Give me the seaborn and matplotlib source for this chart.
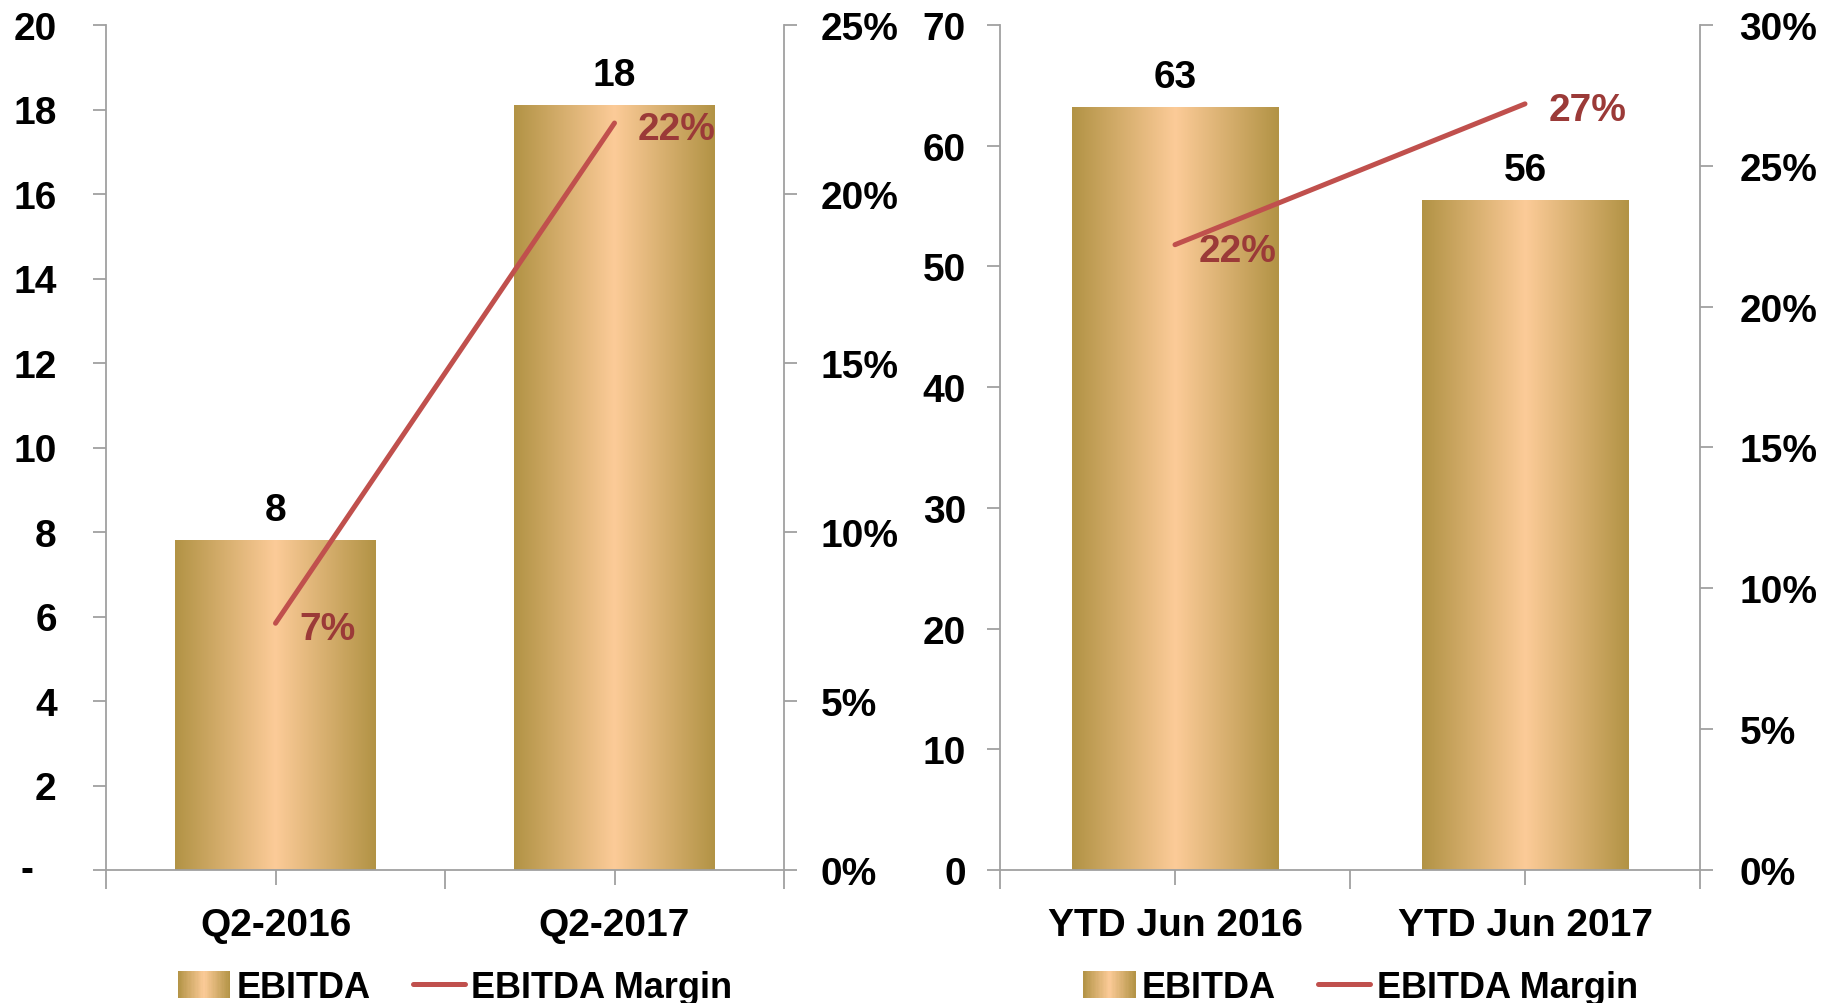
import numpy as np
import pandas as pd
import seaborn as sns
import matplotlib
matplotlib.use("Agg")
import matplotlib.pyplot as plt
from matplotlib.colors import LinearSegmentedColormap
from matplotlib.patches import Rectangle
from matplotlib.lines import Line2D
from matplotlib.legend_handler import HandlerBase
from matplotlib.ticker import MultipleLocator, FuncFormatter

# ---------------- data ----------------
q_categories = ["Q2-2016", "Q2-2017"]
q_ebitda = [7.8, 18.1]
q_margin = [0.073, 0.221]

ytd_categories = ["YTD Jun 2016", "YTD Jun 2017"]
ytd_ebitda = [63.2, 55.5]
ytd_margin = [0.222, 0.272]

legend_labels = ["EBITDA", "EBITDA Margin"]

# ---------------- style ----------------
sns.set_theme(style="white")
plt.rcParams["font.family"] = ["Liberation Sans", "DejaVu Sans"]
plt.rcParams["font.weight"] = "bold"
plt.rcParams["text.color"] = "black"
plt.rcParams["xtick.labelcolor"] = "black"
plt.rcParams["ytick.labelcolor"] = "black"

GOLD_DARK = "#B29345"
PEACH = "#FCCB98"
gold_cmap = LinearSegmentedColormap.from_list("gold", [GOLD_DARK, PEACH, GOLD_DARK])
LINE_RED = "#C0504D"
LABEL_RED = "#9B3A38"
AXIS_GREY = "#A0A0A0"
FS = 28


class GradientPatch(Rectangle):
    pass


class HandlerGradient(HandlerBase):
    def create_artists(self, legend, orig_handle, xdescent, ydescent,
                       width, height, fontsize, trans):
        n = 40
        arts = []
        for i in range(n):
            r = Rectangle((-xdescent + i * width / n, -ydescent), width / n * 1.05, height,
                          facecolor=gold_cmap((i + 0.5) / n), edgecolor="none",
                          transform=trans)
            arts.append(r)
        return arts


def draw_panel(fig, rect, cats, ebitda, margin, ymax, ystep, pmax,
               dash_zero, pad_left, pad_right):
    ax = fig.add_axes(rect)
    n = len(cats)
    df = pd.DataFrame({"cat": cats, "ebitda": ebitda, "margin": margin,
                       "pos": np.arange(n)})
    sns.barplot(data=df, x="cat", y="ebitda", ax=ax, width=0.59, color=PEACH,
                saturation=1, errorbar=None)
    ax.set_xlim(-0.5, n - 0.5)
    ax.set_ylim(0, ymax)
    grad = np.linspace(0, 1, 256).reshape(1, -1)
    for p in list(ax.patches):
        x0, w, h = p.get_x(), p.get_width(), p.get_height()
        ax.imshow(grad, cmap=gold_cmap, extent=[x0, x0 + w, 0, h], aspect="auto",
                  zorder=2, interpolation="bilinear")
        p.set_visible(False)
        ax.annotate(f"{h:.0f}", (x0 + w / 2, h), xytext=(0, 14.5),
                    textcoords="offset points", ha="center", va="baseline",
                    fontsize=FS, fontweight="bold", color="black", zorder=5)
    ax.set_xlim(-0.5, n - 0.5)
    ax.set_ylim(0, ymax)
    ax.set_xlabel("")
    ax.set_ylabel("")

    ax2 = ax.twinx()
    sns.lineplot(data=df, x="pos", y="margin", ax=ax2, color=LINE_RED,
                 linewidth=3.6, solid_capstyle="round")
    ax2.set_ylim(0, pmax)
    ax.set_xlim(-0.5, n - 0.5)
    ax2.set_ylabel("")
    for xi, m in zip(df["pos"], df["margin"]):
        ax2.annotate(f"{m:.0%}", (xi, m), xytext=(17, -11.5),
                     textcoords="offset points", ha="left", va="baseline",
                     fontsize=FS, fontweight="bold", color=LABEL_RED)

    # axes styling
    for s in ["top", "right"]:
        ax.spines[s].set_visible(False)
    for s in ["top", "left", "bottom"]:
        ax2.spines[s].set_visible(False)
    for s in ["left", "bottom"]:
        ax.spines[s].set_color(AXIS_GREY)
        ax.spines[s].set_linewidth(1.3)
    ax2.spines["right"].set_color(AXIS_GREY)
    ax2.spines["right"].set_linewidth(1.3)

    ax.yaxis.set_major_locator(MultipleLocator(ystep))
    if dash_zero:
        ax.yaxis.set_major_formatter(FuncFormatter(lambda v, _: "" if abs(v) < 1e-9 else f"{v:.0f}"))
        ax.annotate("-", xy=(0, 0), xycoords=("axes fraction", "data"),
                    xytext=(-9.5 - pad_left - 17, 0), textcoords="offset points",
                    ha="right", va="center", fontsize=FS, fontweight="bold",
                    color="black")
    else:
        ax.yaxis.set_major_formatter(FuncFormatter(lambda v, _: f"{v:.0f}"))
    ax2.yaxis.set_major_locator(MultipleLocator(0.05))
    ax2.yaxis.set_major_formatter(FuncFormatter(lambda v, _: f"{v:.0%}"))

    ax.tick_params(axis="y", left=True, length=9.5, width=1.3, color=AXIS_GREY,
                   labelsize=FS, pad=pad_left, direction="out", labelcolor="black")
    ax2.tick_params(axis="y", right=True, length=9.5, width=1.3, color=AXIS_GREY,
                    labelsize=FS, pad=pad_right, direction="out", labelcolor="black")

    ax.set_xticks(np.arange(n))
    ax.set_xticklabels(cats)
    ax.set_xticks(np.arange(n + 1) - 0.5, minor=True)
    ax.tick_params(axis="x", which="major", bottom=True, length=11, width=1.3,
                   color=AXIS_GREY, pad=16, labelsize=FS, direction="out",
                   labelcolor="black")
    ax.tick_params(axis="x", which="minor", bottom=True, length=14, width=1.3,
                   color=AXIS_GREY, direction="out")
    ax.grid(False)
    ax2.grid(False)

    handles = [GradientPatch((0, 0), 1, 1),
               Line2D([], [], color=LINE_RED, linewidth=3.6, solid_capstyle="round")]
    leg = ax2.legend(handles, legend_labels, handler_map={GradientPatch: HandlerGradient()},
                     loc="center", bbox_to_anchor=(0.515, -0.139), ncol=2, frameon=False,
                     prop={"size": 26, "weight": "bold"}, handlelength=1.45,
                     handleheight=0.78, handletextpad=0.17, columnspacing=1.17,
                     borderaxespad=0, borderpad=0)
    for t in leg.get_texts():
        t.set_color("black")
    return ax, ax2


fig = plt.figure(figsize=(18.25, 10.04), dpi=100)
fig.patch.set_facecolor("white")

draw_panel(fig, [106 / 1825, 1 - 871 / 1004, 678 / 1825, 845 / 1004],
           q_categories, q_ebitda, q_margin, 20, 2, 0.25,
           dash_zero=True, pad_left=26, pad_right=17)
draw_panel(fig, [1000 / 1825, 1 - 871 / 1004, 700 / 1825, 845 / 1004],
           ytd_categories, ytd_ebitda, ytd_margin, 70, 10, 0.30,
           dash_zero=False, pad_left=15, pad_right=19)

fig.savefig("out.png", dpi=100, facecolor="white")
